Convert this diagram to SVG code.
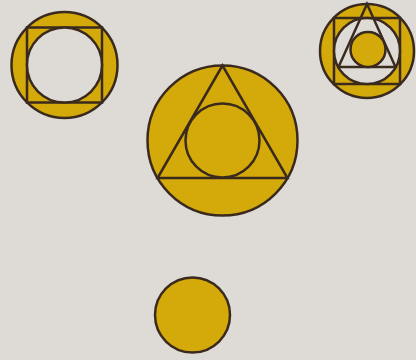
<svg xmlns="http://www.w3.org/2000/svg" width="416" height="360" viewBox="0 0 416 360">
<style>
.g{fill:#d4a90a;stroke:#3a2a1e;stroke-width:2.5}
.b{fill:#dedbd6;stroke:#3a2a1e;stroke-width:2.5}
.l{fill:none;stroke:#3a2a1e;stroke-width:2.5;stroke-linejoin:miter}
</style>
<rect width="416" height="360" fill="#dedbd6"/>
<g id="circle-square-circle">
<circle class="g" cx="64.5" cy="65" r="53"/>
<rect class="l" x="27" y="27.5" width="75" height="75"/>
<circle class="b" cx="64.5" cy="65" r="37.5"/>
</g>
<g id="circle-square-circle-triangle-circle">
<circle class="g" cx="367" cy="51" r="47"/>
<rect class="l" x="334" y="18" width="66" height="66"/>
<circle class="b" cx="367" cy="51" r="33"/>
<polygon class="l" points="367,4 338.5,67 395.5,67"/>
<circle class="g" cx="368" cy="49.5" r="17.5"/>
</g>
<g id="circle-triangle-circle">
<circle class="g" cx="222.5" cy="140.5" r="75"/>
<polygon class="l" points="222.5,65.5 157.5,178 287.5,178"/>
<circle class="g" cx="222.5" cy="140.5" r="37"/>
</g>
<g id="circle">
<circle class="g" cx="192.5" cy="315" r="37.5"/>
</g>
</svg>
